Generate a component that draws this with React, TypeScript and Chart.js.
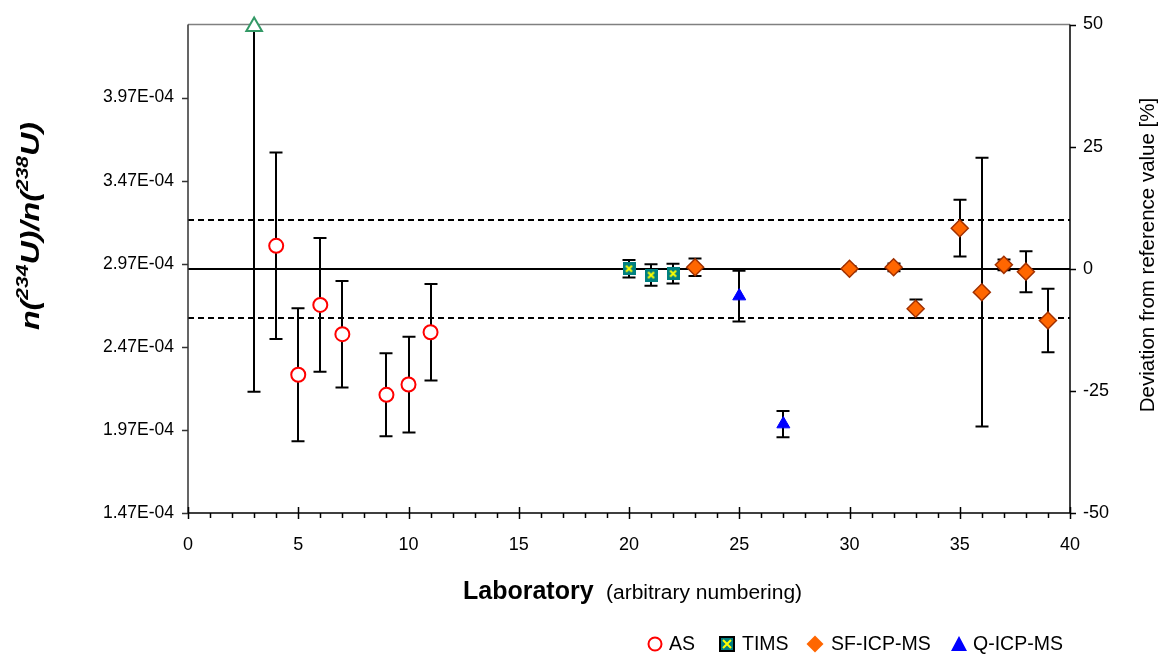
import React, { useEffect, useRef } from "react";
import { Chart, registerables } from "chart.js";
Chart.register(...registerables);

const FONT = '"Liberation Sans", Arial, sans-serif';

// Left axis: isotope amount ratio n(234U)/n(238U); reference value at centre
const leftMin = 1.47e-4;
const leftMax = 4.41e-4;
const leftTickValues = [1.47e-4, 1.97e-4, 2.47e-4, 2.97e-4, 3.47e-4, 3.97e-4];
const leftTickLabels = ["1.47E-04", "1.97E-04", "2.47E-04", "2.97E-04", "3.47E-04", "3.97E-04"];

// Right axis: deviation from reference value [%]
const rightTickValues = [-50, -25, 0, 25, 50];
const xTickValues = [0, 5, 10, 15, 20, 25, 30, 35, 40];

const refLine = 0;
const limitLines = [10, -10];

// AS (alpha spectrometry)
const asLabs = [4, 5, 6, 7, 9, 10, 11];
const asDev = [4.7, -21.7, -7.4, -13.4, -25.8, -23.7, -13.0];
const asErr = [19.1, 13.6, 13.7, 10.9, 8.5, 9.8, 9.9];

// AS outlier (open green triangle)
const outLabs = [3];
const outDev = [49.6];
const outErr = [74.8];

// TIMS
const timsLabs = [20, 21, 22];
const timsDev = [0.0, -1.3, -1.0];
const timsErr = [1.8, 2.2, 2.0];

// SF-ICP-MS
const sfLabs = [23, 30, 32, 33, 35, 36, 37, 38, 39];
const sfDev = [0.3, 0.0, 0.3, -8.2, 8.3, -4.8, 0.8, -0.6, -10.6];
const sfErr = [1.8, 0.5, 0.8, 1.9, 5.8, 27.5, 1.1, 4.2, 6.5];

// Q-ICP-MS
const qLabs = [25, 27];
const qDev = [-5.6, -31.8];
const qErr = [5.2, 2.7];

const toPts = (xs: number[], ys: number[]) => xs.map((x, i) => ({ x, y: ys[i] }));

function makeTimsMarker(size: number, border: boolean) {
  const c = document.createElement("canvas");
  c.width = size;
  c.height = size;
  const g = c.getContext("2d")!;
  g.fillStyle = "#008080";
  g.fillRect(0, 0, size, size);
  if (border) {
    g.strokeStyle = "#000";
    g.lineWidth = 2;
    g.strokeRect(1, 1, size - 2, size - 2);
  }
  g.strokeStyle = "#FFFF00";
  g.lineWidth = 2;
  const p = border ? 4 : 3.5;
  g.beginPath();
  g.moveTo(p, p);
  g.lineTo(size - p, size - p);
  g.moveTo(size - p, p);
  g.lineTo(p, size - p);
  g.stroke();
  return c;
}

// draws a run of differently styled text pieces at (cx, cy),
// rotated by rot and stretched by sx along the reading direction
function drawRich(
  ctx: CanvasRenderingContext2D,
  segs: { t: string; f: string; dy: number }[],
  cx: number,
  cy: number,
  rot: number,
  sx: number,
  align: "center" | "left" = "center"
) {
  ctx.save();
  ctx.translate(cx, cy);
  ctx.rotate(rot);
  ctx.scale(sx, 1);
  let total = 0;
  const widths = segs.map((s) => {
    ctx.font = s.f;
    const w = ctx.measureText(s.t).width;
    total += w;
    return w;
  });
  let x = align === "center" ? -total / 2 : 0;
  ctx.textBaseline = "middle";
  ctx.textAlign = "left";
  ctx.fillStyle = "#000";
  segs.forEach((s, i) => {
    ctx.font = s.f;
    ctx.fillText(s.t, x, s.dy);
    x += widths[i];
  });
  ctx.restore();
}

const decorPlugin = {
  id: "decor",
  beforeDatasetsDraw(chart: any) {
    const { ctx, chartArea: ca, scales } = chart;
    const xs = scales.x;
    const ys = scales.y2;
    ctx.save();
    ctx.beginPath();
    ctx.rect(ca.left, ca.top, ca.right - ca.left, ca.bottom - ca.top);
    ctx.clip();
    // reference line
    ctx.strokeStyle = "#000";
    ctx.lineWidth = 2;
    const y0 = Math.round(ys.getPixelForValue(refLine));
    ctx.beginPath();
    ctx.moveTo(ca.left, y0);
    ctx.lineTo(ca.right, y0);
    ctx.stroke();
    ctx.setLineDash([6, 4]);
    limitLines.forEach((v) => {
      const y = Math.round(ys.getPixelForValue(v));
      ctx.beginPath();
      ctx.moveTo(ca.left, y);
      ctx.lineTo(ca.right, y);
      ctx.stroke();
    });
    ctx.setLineDash([]);
    // error bars
    chart.data.datasets.forEach((ds: any) => {
      const errs: number[] = ds.errors || [];
      ds.data.forEach((p: any, i: number) => {
        const x = Math.round(xs.getPixelForValue(p.x));
        const yt = ys.getPixelForValue(p.y + errs[i]);
        const yb = ys.getPixelForValue(p.y - errs[i]);
        ctx.beginPath();
        ctx.moveTo(x, yt);
        ctx.lineTo(x, yb);
        ctx.moveTo(x - 6.5, yt);
        ctx.lineTo(x + 6.5, yt);
        ctx.moveTo(x - 6.5, yb);
        ctx.lineTo(x + 6.5, yb);
        ctx.stroke();
      });
    });
    ctx.restore();

    // axes
    ctx.save();
    ctx.lineWidth = 1.5;
    ctx.strokeStyle = "#808080";
    ctx.beginPath();
    ctx.moveTo(ca.left, ca.top);
    ctx.lineTo(ca.right, ca.top);
    ctx.stroke();
    const yl = scales.y;
    ctx.strokeStyle = "#333";
    ctx.beginPath();
    ctx.moveTo(ca.left, ca.top);
    ctx.lineTo(ca.left, ca.bottom);
    leftTickValues.forEach((v) => {
      const y = Math.round(yl.getPixelForValue(v)) + 0.5;
      ctx.moveTo(ca.left - 6, y);
      ctx.lineTo(ca.left, y);
    });
    ctx.stroke();
    ctx.strokeStyle = "#000";
    ctx.beginPath();
    ctx.moveTo(ca.right, ca.top);
    ctx.lineTo(ca.right, ca.bottom);
    rightTickValues.forEach((v) => {
      const y = Math.round(ys.getPixelForValue(v)) + 0.5;
      ctx.moveTo(ca.right, y);
      ctx.lineTo(ca.right + 6, y);
    });
    ctx.stroke();
    ctx.beginPath();
    ctx.moveTo(ca.left, ca.bottom);
    ctx.lineTo(ca.right, ca.bottom);
    for (let v = 0; v <= 40; v++) {
      const x = Math.round(xs.getPixelForValue(v)) + 0.5;
      if (v % 5 === 0) {
        ctx.moveTo(x, ca.bottom - 6);
        ctx.lineTo(x, ca.bottom + 6);
      } else {
        ctx.moveTo(x, ca.bottom);
        ctx.lineTo(x, ca.bottom + 5);
      }
    }
    ctx.stroke();
    ctx.restore();
  },
  afterDraw(chart: any) {
    const { ctx } = chart;
    // left title
    const base = `italic bold 26px ${FONT}`;
    const sup = `italic bold 17px ${FONT}`;
    drawRich(
      ctx,
      [
        { t: "n(", f: base, dy: 0 },
        { t: "234", f: sup, dy: -9 },
        { t: "U)/", f: base, dy: 0 },
        { t: "n(", f: base, dy: 0 },
        { t: "238", f: sup, dy: -9 },
        { t: "U)", f: base, dy: 0 },
      ],
      32,
      226,
      -Math.PI / 2,
      1.24
    );
    // right title
    drawRich(ctx, [{ t: "Deviation from reference value [%]", f: `20.5px ${FONT}`, dy: 0 }], 1148, 255, -Math.PI / 2, 1);
    // x title
    drawRich(ctx, [{ t: "Laboratory", f: `bold 25px ${FONT}`, dy: 0 }], 463, 592, 0, 1, "left");
    drawRich(ctx, [{ t: "(arbitrary numbering)", f: `20px ${FONT}`, dy: 0 }], 606, 593, 0, 1.05, "left");

    // legend
    ctx.save();
    const ly = 644;
    ctx.font = `19.5px ${FONT}`;
    ctx.textBaseline = "middle";
    ctx.fillStyle = "#000";
    ctx.beginPath();
    ctx.arc(655, ly, 6.5, 0, Math.PI * 2);
    ctx.fillStyle = "#fff";
    ctx.fill();
    ctx.strokeStyle = "#FF0000";
    ctx.lineWidth = 2;
    ctx.stroke();
    ctx.fillStyle = "#000";
    ctx.fillText("AS", 669, ly + 1);
    const img = makeTimsMarker(16, true);
    ctx.drawImage(img, 727 - 8, ly - 8);
    ctx.fillText("TIMS", 742, ly + 1);
    ctx.beginPath();
    ctx.moveTo(815, ly - 8.5);
    ctx.lineTo(823.5, ly);
    ctx.lineTo(815, ly + 8.5);
    ctx.lineTo(806.5, ly);
    ctx.closePath();
    ctx.fillStyle = "#FF6600";
    ctx.fill();
    ctx.fillStyle = "#000";
    ctx.fillText("SF-ICP-MS", 831, ly + 1);
    ctx.beginPath();
    ctx.moveTo(959, ly - 8);
    ctx.lineTo(967, ly + 7);
    ctx.lineTo(951, ly + 7);
    ctx.closePath();
    ctx.fillStyle = "#0000FF";
    ctx.fill();
    ctx.fillStyle = "#000";
    ctx.fillText("Q-ICP-MS", 973, ly + 1);
    ctx.restore();
  },
};

export default function App() {
  const ref = useRef<HTMLCanvasElement>(null);
  useEffect(() => {
    const timsImg = makeTimsMarker(13, false);
    const common = { xAxisID: "x", yAxisID: "y2", clip: false };
    const chart = new Chart(ref.current!, {
      type: "scatter",
      data: {
        datasets: [
          {
            label: "AS-out",
            data: toPts(outLabs, outDev),
            errors: outErr,
            pointStyle: "triangle",
            pointRadius: 9,
            borderColor: "#339966",
            backgroundColor: "#fff",
            borderWidth: 2,
            ...common,
          } as any,
          {
            label: "AS",
            data: toPts(asLabs, asDev),
            errors: asErr,
            pointStyle: "circle",
            pointRadius: 7,
            borderColor: "#FF0000",
            backgroundColor: "#fff",
            borderWidth: 2,
            ...common,
          } as any,
          {
            label: "TIMS",
            data: toPts(timsLabs, timsDev),
            errors: timsErr,
            pointStyle: timsImg,
            pointRadius: 7,
            ...common,
          } as any,
          {
            label: "SF-ICP-MS",
            data: toPts(sfLabs, sfDev),
            errors: sfErr,
            pointStyle: "rectRot",
            pointRadius: 8.5,
            borderColor: "#A03000",
            backgroundColor: "#FF6600",
            borderWidth: 1.5,
            ...common,
          } as any,
          {
            label: "Q-ICP-MS",
            data: toPts(qLabs, qDev),
            errors: qErr,
            pointStyle: "triangle",
            pointRadius: 7.5,
            borderColor: "#0000FF",
            backgroundColor: "#0000FF",
            borderWidth: 1,
            ...common,
          } as any,
        ],
      },
      options: {
        responsive: false,
        animation: false,
        devicePixelRatio: 1,
        layout: { padding: { top: 18, left: 0, right: 0, bottom: 0 } },
        plugins: { legend: { display: false }, tooltip: { enabled: false } },
        scales: {
          x: {
            type: "linear",
            position: "bottom",
            min: 0,
            max: 40,
            afterBuildTicks: (s: any) => {
              s.ticks = xTickValues.map((v) => ({ value: v }));
            },
            grid: { display: false, drawTicks: false },
            border: { display: false },
            ticks: { color: "#000", font: { family: FONT, size: 18 }, padding: 21, maxRotation: 0 },
            afterFit: (s: any) => {
              s.height = 149;
            },
          },
          y: {
            type: "linear",
            position: "left",
            min: leftMin,
            max: leftMax,
            afterBuildTicks: (s: any) => {
              s.ticks = leftTickValues.map((v) => ({ value: v }));
            },
            grid: { display: false, drawTicks: false },
            border: { display: false },
            ticks: {
              color: "#000",
              font: { family: FONT, size: 17.5 },
              padding: 14,
              callback: (_v: any, i: number) => leftTickLabels[i],
            },
            afterFit: (s: any) => {
              s.width = 188;
            },
          },
          y2: {
            type: "linear",
            position: "right",
            min: -50,
            max: 50,
            afterBuildTicks: (s: any) => {
              s.ticks = rightTickValues.map((v) => ({ value: v }));
            },
            grid: { display: false, drawTicks: false },
            border: { display: false },
            ticks: { color: "#000", font: { family: FONT, size: 18 }, padding: 13 },
            afterFit: (s: any) => {
              s.width = 102;
            },
          },
        },
      } as any,
      plugins: [decorPlugin],
    });
    return () => chart.destroy();
  }, []);
  return (
    <div style={{ position: "fixed", left: 0, top: 0, width: 1172, height: 662, background: "#fff" }}>
      <canvas ref={ref} width={1172} height={662} style={{ display: "block", width: 1172, height: 662 }} />
    </div>
  );
}
